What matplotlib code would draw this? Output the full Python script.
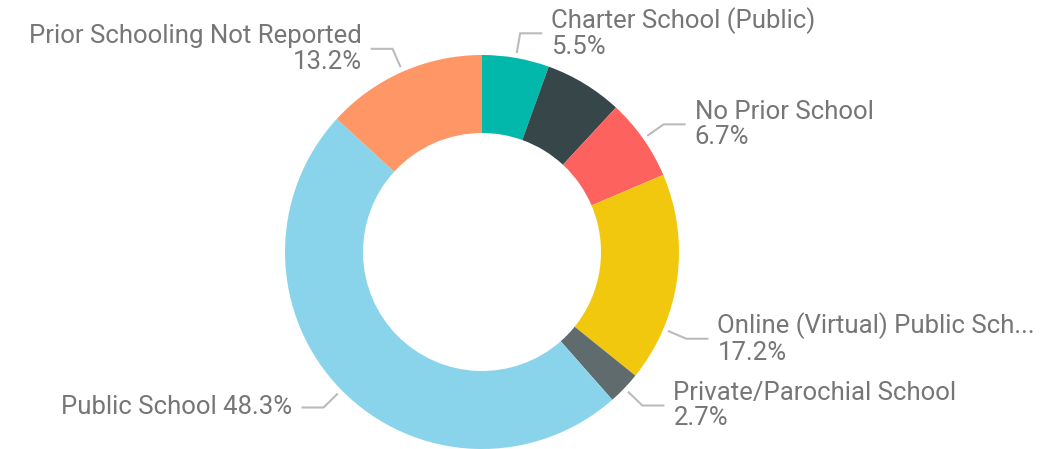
import numpy as np
import matplotlib
matplotlib.use("Agg")
from matplotlib import pyplot as plt

# slices, clockwise from 12 o'clock
labels = ["Charter School (Public)", None, "No Prior School",
          "Online (Virtual) Public Sch...", "Private/Parochial School",
          "Public School", "Prior Schooling Not Reported"]
values = [5.5, 6.4, 6.7, 17.2, 2.7, 48.3, 13.2]
colors = ["#01B8AA", "#374649", "#FD625E", "#F2C80F", "#5F6B6D", "#8AD4EB", "#FE9666"]

W, H = 1058, 449
fig = plt.figure(figsize=(W / 100, H / 100), dpi=100)
ax = fig.add_axes([0, 0, 1, 1])

cx, cy, R = 482, H - 252, 197
ax.pie(values, colors=colors, startangle=90, counterclock=False,
       center=(cx, cy), radius=R, frame=True,
       wedgeprops=dict(width=78, linewidth=0))
ax.set_xlim(0, W)
ax.set_ylim(0, H)
ax.set_aspect("equal")
ax.axis("off")

txt_col = "#767676"
line_col = "#bbbbbb"
font = "Roboto"
fs = 18.5

# label anchor angle overrides (degrees clockwise from top), layout only
angle_override = {3: 113}
single_line = {5}

cum = np.cumsum([0] + values)
tot = sum(values)
for i, lab in enumerate(labels):
    if lab is None:
        continue
    mid = (cum[i] + values[i] / 2) / tot * 360
    a = np.radians(angle_override.get(i, mid))
    sx, sy = cx + (R + 5) * np.sin(a), cy + (R + 5) * np.cos(a)
    ex, ey = cx + (R + 25) * np.sin(a), cy + (R + 25) * np.cos(a)
    side = 1 if np.sin(a) > 0 else -1
    hx = ex + side * 22
    ax.plot([sx, ex, hx], [sy, ey, ey], color=line_col, lw=1.5,
            solid_capstyle="butt", solid_joinstyle="miter")
    pct = f"{values[i]:.1f}%"
    s = f"{lab} {pct}" if i in single_line else f"{lab}\n{pct}"
    ax.text(hx + side * 9, ey, s, ha="left" if side > 0 else "right",
            va="center", color=txt_col, fontsize=fs, family=font,
            linespacing=1.08, multialignment="left" if side > 0 else "right")

fig.savefig("out.png", dpi=100)
